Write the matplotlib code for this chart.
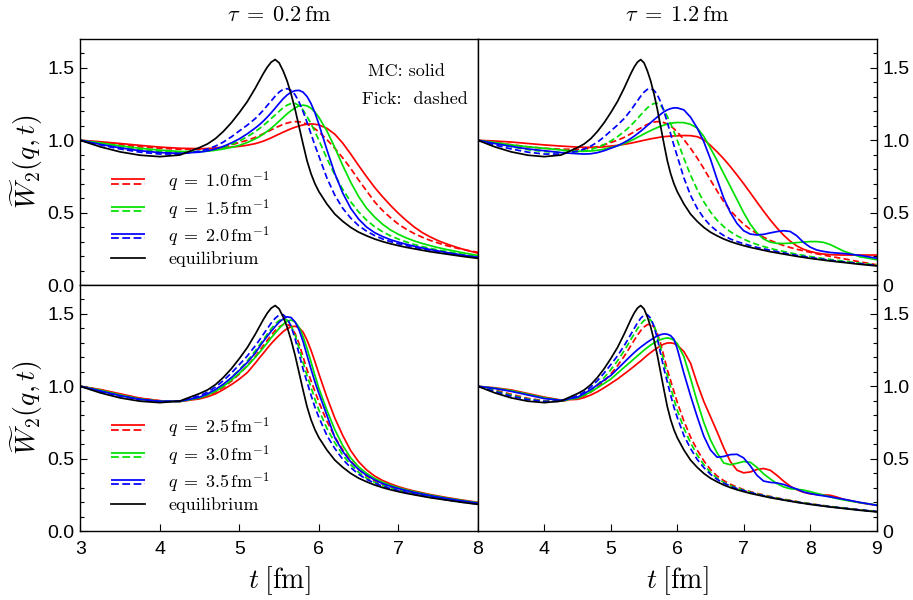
import matplotlib
matplotlib.use("Agg")
import matplotlib.pyplot as plt
from matplotlib.lines import Line2D
from matplotlib.legend_handler import HandlerBase

plt.rcParams['font.family'] = ['Liberation Sans', 'DejaVu Sans']
plt.rcParams['mathtext.fontset'] = 'cm'

# ---------------- data ----------------
T = [3.0, 3.25, 3.5, 3.75, 4.0, 4.25, 4.5, 4.6, 4.7, 4.8, 4.9, 5.0, 5.1,
     5.2, 5.25, 5.3, 5.35, 5.4, 5.45, 5.5, 5.55, 5.6, 5.65,
     5.7, 5.75, 5.8, 5.85, 5.9, 5.95, 6.0, 6.1, 6.2, 6.3,
     6.4, 6.5, 6.6, 6.7, 6.8, 6.9, 7.0, 7.1, 7.2, 7.3,
     7.4, 7.5, 7.6, 7.7, 7.8, 7.9, 8.0, 8.1, 8.2, 8.3,
     8.4, 8.5, 8.75, 9.0]

equilibrium = [1.000, 0.955, 0.920, 0.897, 0.887, 0.898, 0.950, 0.975, 1.012, 1.062, 1.122, 1.192, 1.268,
               1.360, 1.410, 1.460, 1.505, 1.540, 1.558, 1.535, 1.480, 1.410, 1.320,
               1.215, 1.095, 0.975, 0.860, 0.770, 0.700, 0.645, 0.560, 0.490, 0.440,
               0.398, 0.365, 0.340, 0.318, 0.300, 0.285, 0.272, 0.260, 0.250, 0.240,
               0.230, 0.222, 0.214, 0.206, 0.198, 0.191, 0.184, 0.178, 0.172, 0.166,
               0.161, 0.156, 0.143, 0.132]

# Fick (dashed), identical in both columns
fick_q10 = [1.000, 0.985, 0.970, 0.955, 0.945, 0.938, 0.938, 0.941, 0.947, 0.956, 0.968, 0.985, 1.000,
            1.020, 1.032, 1.045, 1.058, 1.072, 1.085, 1.098, 1.110, 1.119, 1.126,
            1.129, 1.128, 1.122, 1.112, 1.098, 1.080, 1.058, 1.005, 0.945, 0.878,
            0.805, 0.725, 0.650, 0.575, 0.515, 0.465, 0.420, 0.385, 0.355, 0.330,
            0.308, 0.290, 0.273, 0.259, 0.247, 0.236, 0.226, 0.216, 0.207, 0.198,
            0.190, 0.182, 0.160, 0.140]
fick_q15 = [1.000, 0.978, 0.955, 0.935, 0.922, 0.915, 0.920, 0.926, 0.936, 0.952, 0.971, 0.995, 1.025,
            1.060, 1.080, 1.102, 1.125, 1.150, 1.175, 1.200, 1.225, 1.243, 1.254,
            1.255, 1.240, 1.210, 1.165, 1.115, 1.060, 1.000, 0.875, 0.760, 0.660,
            0.575, 0.505, 0.448, 0.403, 0.368, 0.340, 0.317, 0.297, 0.280, 0.266,
            0.253, 0.242, 0.232, 0.222, 0.213, 0.205, 0.197, 0.190, 0.183, 0.177,
            0.171, 0.165, 0.151, 0.138]
fick_q20 = [1.000, 0.968, 0.940, 0.918, 0.905, 0.905, 0.925, 0.940, 0.960, 0.988, 1.024, 1.065, 1.105,
            1.150, 1.178, 1.207, 1.240, 1.272, 1.305, 1.333, 1.352, 1.357, 1.345,
            1.315, 1.265, 1.200, 1.125, 1.045, 0.965, 0.890, 0.740, 0.620, 0.530,
            0.462, 0.410, 0.372, 0.342, 0.318, 0.300, 0.285, 0.272, 0.260, 0.250,
            0.240, 0.231, 0.222, 0.213, 0.205, 0.198, 0.190, 0.184, 0.177, 0.171,
            0.165, 0.160, 0.147, 0.135]
fick_q25 = [1.000, 0.975, 0.945, 0.917, 0.900, 0.895, 0.918, 0.935, 0.960, 0.993, 1.036, 1.085, 1.142,
            1.207, 1.242, 1.280, 1.317, 1.352, 1.385, 1.410, 1.426, 1.430, 1.410,
            1.365, 1.295, 1.205, 1.115, 1.040, 0.965, 0.890, 0.760, 0.650, 0.560,
            0.485, 0.425, 0.380, 0.348, 0.323, 0.303, 0.286, 0.272, 0.260, 0.249,
            0.239, 0.229, 0.220, 0.212, 0.204, 0.196, 0.189, 0.182, 0.176, 0.170,
            0.165, 0.160, 0.147, 0.136]
fick_q30 = [1.000, 0.970, 0.938, 0.912, 0.897, 0.896, 0.925, 0.945, 0.973, 1.012, 1.060, 1.115, 1.175,
            1.245, 1.283, 1.322, 1.360, 1.397, 1.430, 1.455, 1.466, 1.458, 1.420,
            1.355, 1.265, 1.165, 1.075, 0.995, 0.910, 0.835, 0.710, 0.610, 0.525,
            0.458, 0.405, 0.365, 0.336, 0.314, 0.297, 0.282, 0.268, 0.256, 0.246,
            0.236, 0.227, 0.218, 0.210, 0.202, 0.195, 0.188, 0.181, 0.175, 0.169,
            0.164, 0.159, 0.146, 0.135]
fick_q35 = [1.000, 0.965, 0.932, 0.908, 0.895, 0.897, 0.935, 0.960, 0.995, 1.040, 1.092, 1.150, 1.210,
            1.280, 1.318, 1.358, 1.398, 1.437, 1.470, 1.493, 1.495, 1.470, 1.415,
            1.330, 1.225, 1.120, 1.030, 0.940, 0.855, 0.785, 0.660, 0.570, 0.495,
            0.438, 0.392, 0.357, 0.331, 0.310, 0.293, 0.279, 0.266, 0.255, 0.244,
            0.234, 0.225, 0.216, 0.208, 0.200, 0.193, 0.186, 0.180, 0.174, 0.168,
            0.163, 0.158, 0.146, 0.135]

# MC (solid), tau = 0.2 fm (t = 3 ... 8)
mc02_q10 = [1.000, 0.990, 0.978, 0.965, 0.953, 0.945, 0.942, 0.943, 0.945, 0.949, 0.953, 0.958, 0.966,
            0.977, 0.985, 0.994, 1.005, 1.017, 1.030, 1.043, 1.056, 1.068, 1.080,
            1.090, 1.099, 1.106, 1.111, 1.113, 1.111, 1.106, 1.083, 1.042, 0.980,
            0.905, 0.825, 0.748, 0.675, 0.610, 0.550, 0.495, 0.445, 0.400, 0.362,
            0.332, 0.306, 0.285, 0.266, 0.249, 0.234, 0.220]
mc02_q15 = [1.000, 0.982, 0.962, 0.945, 0.932, 0.923, 0.922, 0.925, 0.931, 0.940, 0.951, 0.965, 0.985,
            1.010, 1.025, 1.042, 1.062, 1.083, 1.107, 1.132, 1.158, 1.183, 1.205,
            1.224, 1.237, 1.243, 1.238, 1.222, 1.195, 1.158, 1.065, 0.950, 0.825,
            0.710, 0.610, 0.530, 0.470, 0.420, 0.380, 0.350, 0.325, 0.304, 0.287,
            0.272, 0.258, 0.246, 0.235, 0.224, 0.214, 0.204]
mc02_q20 = [1.000, 0.972, 0.948, 0.928, 0.915, 0.910, 0.918, 0.927, 0.940, 0.958, 0.982, 1.010, 1.045,
            1.085, 1.107, 1.132, 1.160, 1.190, 1.222, 1.255, 1.287, 1.313, 1.332,
            1.343, 1.345, 1.333, 1.303, 1.255, 1.190, 1.110, 0.935, 0.770, 0.635,
            0.530, 0.455, 0.400, 0.362, 0.335, 0.313, 0.296, 0.281, 0.268, 0.256,
            0.245, 0.235, 0.225, 0.216, 0.207, 0.199, 0.191]
mc02_q25 = [1.000, 0.978, 0.948, 0.918, 0.900, 0.895, 0.913, 0.928, 0.948, 0.978, 1.012, 1.050, 1.095,
            1.160, 1.195, 1.228, 1.262, 1.295, 1.325, 1.352, 1.378, 1.398, 1.411,
            1.415, 1.405, 1.375, 1.320, 1.250, 1.170, 1.085, 0.925, 0.780, 0.660,
            0.555, 0.478, 0.422, 0.380, 0.349, 0.326, 0.306, 0.290, 0.276, 0.264,
            0.252, 0.242, 0.232, 0.223, 0.214, 0.206, 0.198]
mc02_q30 = [1.000, 0.973, 0.940, 0.912, 0.897, 0.895, 0.920, 0.940, 0.965, 1.000, 1.043, 1.090, 1.140,
            1.200, 1.232, 1.265, 1.300, 1.335, 1.368, 1.400, 1.428, 1.450, 1.458,
            1.445, 1.408, 1.345, 1.262, 1.170, 1.075, 0.985, 0.835, 0.700, 0.590,
            0.505, 0.443, 0.398, 0.363, 0.337, 0.316, 0.299, 0.284, 0.271, 0.259,
            0.248, 0.238, 0.228, 0.219, 0.211, 0.203, 0.195]
mc02_q35 = [1.000, 0.968, 0.935, 0.910, 0.896, 0.896, 0.925, 0.948, 0.978, 1.015, 1.060, 1.110, 1.165,
            1.230, 1.270, 1.310, 1.345, 1.380, 1.413, 1.443, 1.465, 1.480, 1.475,
            1.445, 1.390, 1.310, 1.215, 1.120, 1.030, 0.950, 0.800, 0.645, 0.550,
            0.478, 0.425, 0.385, 0.353, 0.328, 0.309, 0.293, 0.279, 0.266, 0.255,
            0.244, 0.234, 0.225, 0.216, 0.208, 0.200, 0.192]

# MC (solid), tau = 1.2 fm (t = 3 ... 9)
mc12_q10 = [1.000, 0.995, 0.988, 0.978, 0.968, 0.960, 0.953, 0.952, 0.951, 0.952, 0.955, 0.960, 0.965,
            0.972, 0.976, 0.980, 0.985, 0.990, 0.995, 1.000, 1.005, 1.010, 1.014,
            1.018, 1.022, 1.025, 1.027, 1.029, 1.030, 1.031, 1.033, 1.032, 1.025,
            1.005, 0.965, 0.920, 0.872, 0.818, 0.760, 0.700, 0.637, 0.573, 0.510,
            0.450, 0.395, 0.345, 0.303, 0.270, 0.247, 0.232, 0.221, 0.214, 0.210,
            0.208, 0.207, 0.207, 0.207]
mc12_q15 = [1.000, 0.985, 0.968, 0.955, 0.945, 0.933, 0.925, 0.924, 0.926, 0.931, 0.939, 0.950, 0.962,
            0.978, 0.987, 0.997, 1.008, 1.020, 1.032, 1.044, 1.056, 1.067, 1.078,
            1.088, 1.097, 1.105, 1.112, 1.117, 1.121, 1.123, 1.122, 1.110, 1.085,
            1.027, 0.945, 0.860, 0.770, 0.680, 0.590, 0.500, 0.420, 0.360, 0.318,
            0.296, 0.288, 0.287, 0.289, 0.293, 0.297, 0.300, 0.300, 0.295, 0.280,
            0.258, 0.235, 0.195, 0.175]
mc12_q20 = [1.000, 0.978, 0.958, 0.940, 0.928, 0.915, 0.907, 0.905, 0.907, 0.915, 0.928, 0.945, 0.962,
            0.985, 0.998, 1.012, 1.028, 1.045, 1.063, 1.082, 1.102, 1.122, 1.142,
            1.161, 1.180, 1.197, 1.210, 1.219, 1.224, 1.224, 1.210, 1.160, 1.085,
            0.990, 0.870, 0.730, 0.600, 0.500, 0.425, 0.375, 0.352, 0.346, 0.350,
            0.360, 0.369, 0.375, 0.370, 0.340, 0.295, 0.262, 0.242, 0.232, 0.225,
            0.221, 0.218, 0.205, 0.185]
mc12_q25 = [1.000, 0.990, 0.975, 0.950, 0.925, 0.905, 0.910, 0.922, 0.940, 0.963, 0.990, 1.020, 1.050,
            1.085, 1.102, 1.120, 1.138, 1.157, 1.175, 1.195, 1.215, 1.233, 1.250,
            1.265, 1.280, 1.292, 1.299, 1.300, 1.296, 1.285, 1.240, 1.160, 1.020,
            0.895, 0.790, 0.685, 0.575, 0.480, 0.420, 0.402, 0.408, 0.425, 0.432,
            0.420, 0.385, 0.345, 0.310, 0.285, 0.268, 0.257, 0.252, 0.250, 0.247,
            0.235, 0.220, 0.195, 0.178]
mc12_q30 = [1.000, 0.987, 0.970, 0.945, 0.920, 0.903, 0.918, 0.938, 0.962, 0.990, 1.020, 1.050, 1.090,
            1.130, 1.150, 1.170, 1.190, 1.210, 1.230, 1.250, 1.268, 1.285, 1.300,
            1.313, 1.323, 1.330, 1.334, 1.330, 1.318, 1.295, 1.205, 1.055, 0.895,
            0.750, 0.630, 0.540, 0.470, 0.458, 0.468, 0.480, 0.475, 0.440, 0.395,
            0.360, 0.328, 0.305, 0.292, 0.288, 0.283, 0.272, 0.260, 0.248, 0.236,
            0.225, 0.215, 0.196, 0.180]
mc12_q35 = [1.000, 0.985, 0.965, 0.940, 0.915, 0.903, 0.925, 0.950, 0.978, 1.010, 1.043, 1.075, 1.120,
            1.165, 1.188, 1.210, 1.232, 1.252, 1.271, 1.288, 1.305, 1.320, 1.335,
            1.348, 1.357, 1.362, 1.360, 1.350, 1.325, 1.260, 1.090, 0.935, 0.790,
            0.655, 0.560, 0.510, 0.515, 0.528, 0.530, 0.505, 0.450, 0.385, 0.345,
            0.336, 0.332, 0.322, 0.305, 0.290, 0.270, 0.259, 0.250, 0.243, 0.236,
            0.228, 0.220, 0.198, 0.178]

titles = [r'$\tau\;=\;0.2\,\mathrm{fm}$', r'$\tau\;=\;1.2\,\mathrm{fm}$']
q_labels_top = [r'$q\;=\;1.0\,\mathrm{fm}^{-1}$', r'$q\;=\;1.5\,\mathrm{fm}^{-1}$', r'$q\;=\;2.0\,\mathrm{fm}^{-1}$']
q_labels_bot = [r'$q\;=\;2.5\,\mathrm{fm}^{-1}$', r'$q\;=\;3.0\,\mathrm{fm}^{-1}$', r'$q\;=\;3.5\,\mathrm{fm}^{-1}$']
eq_label = 'equilibrium'
yticks = [0.0, 0.5, 1.0, 1.5]
yticklabels_left = ['0.0', '0.5', '1.0', '1.5']
yticklabels_right = ['0', '0.5', '1.0', '1.5']
xticks_left = [3, 4, 5, 6, 7, 8]
xticks_right = [4, 5, 6, 7, 8, 9]

colors = ['#ff0000', '#00e000', '#0000ff']
LW = 1.25
DASH = (3.6, 1.9)
CM = 'cmr10'


class PairHandler(HandlerBase):
    def create_artists(self, legend, orig_handle, xdescent, ydescent,
                       width, height, fontsize, trans):
        solid, dashed = orig_handle
        yc = height / 2.0 - ydescent
        off = 1.5
        x0, x1 = -xdescent, -xdescent + width
        l1 = Line2D([x0, x1], [yc + off, yc + off], color=solid.get_color(),
                    lw=LW, solid_capstyle='butt')
        l2 = Line2D([x0, x1], [yc - off, yc - off], color=dashed.get_color(),
                    lw=LW, dashes=(4.5, 2.0), dash_capstyle='butt')
        l1.set_transform(trans)
        l2.set_transform(trans)
        return [l1, l2]


fig = plt.figure(figsize=(9.13, 6.0), dpi=100)
W, H = 913.0, 600.0
xl0, xm, xr1 = 80.3, 478.0, 876.5
yt0, ym, yb1 = 39.0, 285.0, 531.0
ax_tl = fig.add_axes([xl0 / W, 1 - ym / H, (xm - xl0) / W, (ym - yt0) / H])
ax_tr = fig.add_axes([xm / W, 1 - ym / H, (xr1 - xm) / W, (ym - yt0) / H])
ax_bl = fig.add_axes([xl0 / W, 1 - yb1 / H, (xm - xl0) / W, (yb1 - ym) / H])
ax_br = fig.add_axes([xm / W, 1 - yb1 / H, (xr1 - xm) / W, (yb1 - ym) / H])

panels = [
    (ax_tl, [mc02_q10, mc02_q15, mc02_q20], [fick_q10, fick_q15, fick_q20], q_labels_top, 8.0),
    (ax_tr, [mc12_q10, mc12_q15, mc12_q20], [fick_q10, fick_q15, fick_q20], None, 9.0),
    (ax_bl, [mc02_q25, mc02_q30, mc02_q35], [fick_q25, fick_q30, fick_q35], q_labels_bot, 8.0),
    (ax_br, [mc12_q25, mc12_q30, mc12_q35], [fick_q25, fick_q30, fick_q35], None, 9.0),
]

for ax, mcs, ficks, labels, tmax in panels:
    n = len([t for t in T if t <= tmax + 1e-9])
    handles = []
    for c, mc, fk in zip(colors, mcs, ficks):
        ld, = ax.plot(T[:n], fk[:n], color=c, lw=LW, dashes=DASH)
        ls, = ax.plot(T[:len(mc)], mc, color=c, lw=LW)
        handles.append((ls, ld))
    le, = ax.plot(T[:n], equilibrium[:n], color='black', lw=LW)
    ax.set_xlim(3, tmax)
    ax.set_ylim(0, 1.70)
    for s in ax.spines.values():
        s.set_linewidth(1.0)
    ax.set_yticks(yticks)
    ax.set_yticks([i / 10 for i in range(17)], minor=True)
    ax.tick_params(which='both', direction='in', width=0.8, labelsize=14, pad=4)
    ax.tick_params(which='major', length=5)
    ax.tick_params(which='minor', length=2.8)
    ax.tick_params(axis='x', which='minor', bottom=False, top=False)
    if labels is not None:
        ax.legend(handles + [le], labels + [eq_label],
                  handler_map={tuple: PairHandler()},
                  loc='upper left', bbox_to_anchor=(0.078, 0.468),
                  frameon=False, prop={'family': CM, 'size': 13},
                  handlelength=1.85, handletextpad=1.3, labelspacing=0.15,
                  borderpad=0, borderaxespad=0)
        ax.set_yticklabels(yticklabels_left)
        ax.tick_params(which='both', left=True, right=False)
        ax.set_ylabel(r'$\widetilde{W}_2(q,t)$', fontsize=20, labelpad=2)
    else:
        ax.yaxis.tick_right()
        ax.set_yticklabels(yticklabels_right)
        ax.tick_params(which='both', left=False, right=True, labelleft=False, labelright=True)

for ax in (ax_tl, ax_tr):
    ax.tick_params(axis='x', which='both', bottom=False, labelbottom=False)

ax_bl.set_xticks(xticks_left)
ax_bl.set_xticklabels([str(v) for v in xticks_left])
ax_br.set_xticks(xticks_right)
ax_br.set_xticklabels([str(v) for v in xticks_right])
ax_bl.tick_params(axis='x', pad=7)
ax_br.tick_params(axis='x', pad=7)
for ax in (ax_bl, ax_br):
    ax.set_xlabel(r'$t\;[\mathrm{fm}]$', fontsize=20, labelpad=5)

ax_tl.set_title(titles[0], fontsize=16, pad=13)
ax_tr.set_title(titles[1], fontsize=16, pad=13)

ax_tl.text(0.819, 0.870, 'MC: solid', transform=ax_tl.transAxes, family=CM,
           ha='center', va='center', fontsize=13)
ax_tl.text(0.842, 0.754, 'Fick:  dashed', transform=ax_tl.transAxes, family=CM,
           ha='center', va='center', fontsize=13)

fig.savefig('out.png', dpi=100)
